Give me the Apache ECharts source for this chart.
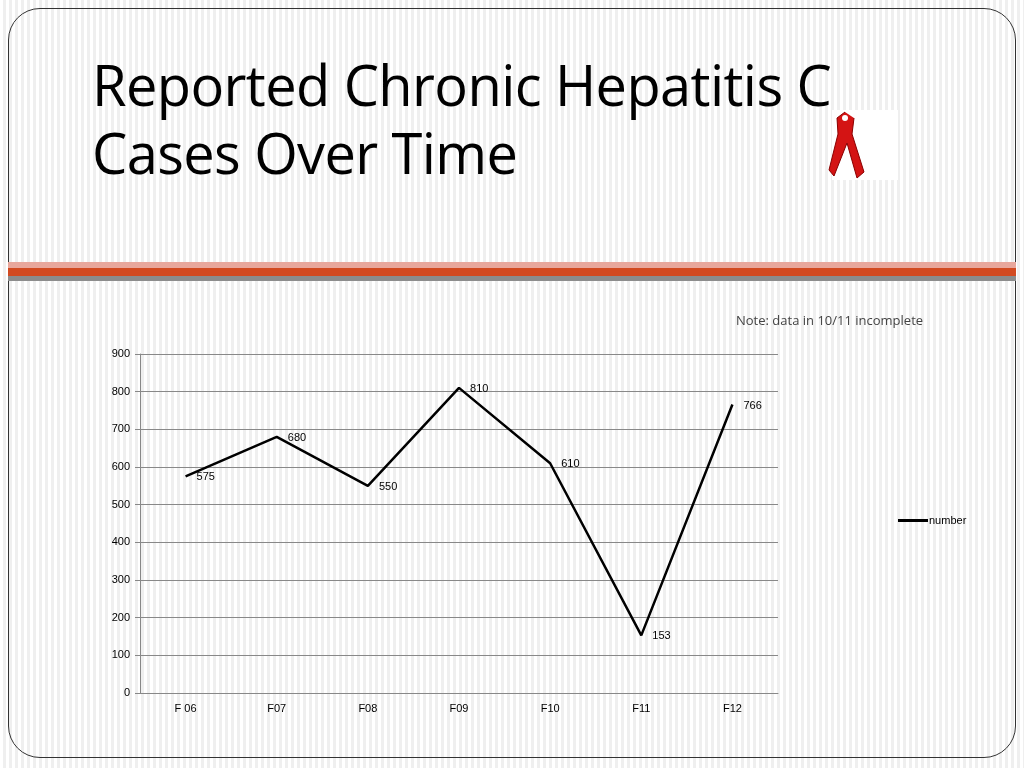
<!DOCTYPE html>
<html><head><meta charset="utf-8">
<script src="https://cdn.jsdelivr.net/npm/echarts@6/dist/echarts.min.js"></script>
<style>
html,body{margin:0;padding:0;width:1024px;height:768px;overflow:hidden;background:#fff;}
#bg{position:absolute;left:0;top:0;width:1024px;height:768px;
 background:repeating-linear-gradient(90deg,#fff 0,#fff 3px,#efefef 3px,#efefef 6px);}
#frame{position:absolute;left:8px;top:8px;width:1006px;height:748px;border:1.5px solid #333;border-radius:32px;}
#title{position:absolute;left:92px;top:50px;font-family:"Open Sans",sans-serif;font-size:56px;line-height:68px;color:#000;letter-spacing:-0.6px;}
#b1{position:absolute;left:8px;top:262px;width:1008px;height:6px;background:#e8a79c;}
#b2{position:absolute;left:8px;top:268px;width:1008px;height:8px;background:#d24a21;}
#b3{position:absolute;left:8px;top:276px;width:1008px;height:5px;background:#8c8c8c;}
#chart{position:absolute;left:0;top:0;width:1024px;height:768px;}
</style></head><body>
<div id="bg"></div><div id="frame"></div>
<div id="title">Reported Chronic Hepatitis C<br>Cases Over Time</div>
<div id="b1"></div><div id="b2"></div><div id="b3"></div>
<div id="chart"></div>
<script>
const categories = ['F 06', 'F07', 'F08', 'F09', 'F10', 'F11', 'F12'];
const values = [575, 680, 550, 810, 610, 153, 766];
const yTicks = [0, 900, 100];

const chart = echarts.init(document.getElementById('chart'));
chart.setOption({
  animation: false,
  graphic: [
    {type:'rect', shape:{x:832,y:110,width:66,height:70}, style:{fill:'#fff'}},
    {type:'polyline', shape:{points:[[845,112],[837,118],[838,134],[829,170],[834,176],[847,143],[857,178],[864,172],[852,134],[854,118]]}, style:{fill:'#d41414',stroke:'#8a0000',lineWidth:1}},
    {type:'circle', shape:{cx:845,cy:118,r:3}, style:{fill:'#fff'}},
    {type:'text', left:736, top:315, style:{text:'Note: data in 10/11 incomplete', font:'13px "Open Sans", sans-serif', fill:'#444'}}
  ],
  grid: {left:140, right:246, top:354, bottom:75},
  legend: {left:893, top:510, itemWidth:30, itemHeight:3, itemGap:2, icon:'rect', data:['number'],
    textStyle:{fontSize:11, fontFamily:'Liberation Sans', color:'#000', padding:[0,0,0,-4]}},
  xAxis: {type:'category', data:categories, boundaryGap:true,
    axisLine:{lineStyle:{color:'#888'}}, axisTick:{alignWithLabel:false, length:5, lineStyle:{color:'#888'}},
    axisLabel:{fontSize:11, fontFamily:'Liberation Sans', color:'#000', margin:10}},
  yAxis: {type:'value', min:yTicks[0], max:yTicks[1], interval:yTicks[2],
    axisLine:{show:true, lineStyle:{color:'#888'}}, axisTick:{show:true, length:5, lineStyle:{color:'#888'}},
    splitLine:{lineStyle:{color:'#888'}},
    axisLabel:{fontSize:11, fontFamily:'Liberation Sans', color:'#000', margin:10}},
  series: [{
    name:'number', type:'line', symbol:'circle', symbolSize:0.1, showSymbol:true, color:'#000',
    lineStyle:{width:2.5, color:'#000'},
    label:{show:true, position:'right', offset:[6,1], fontSize:11, fontFamily:'Liberation Sans', color:'#000'},
    data: values
  }]
});
</script></body></html>
